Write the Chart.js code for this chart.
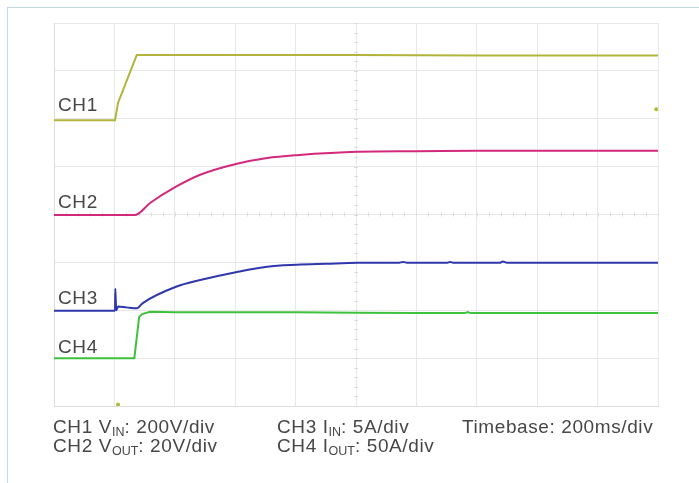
<!DOCTYPE html>
<html>
<head>
<meta charset="utf-8">
<script src="https://cdn.jsdelivr.net/npm/chart.js@4"></script>
<style>
  html, body { margin: 0; padding: 0; background: #fff; }
  #wrap { position: relative; width: 699px; height: 483px; overflow: hidden; }
  #frame { position: absolute; left: 7px; top: 7px; width: 720px; height: 520px;
           border-top: 1.5px solid #c4d8df; border-left: 1.5px solid #c4d8df; }
  canvas { position: absolute; left: 0; top: 0; }
  .lbl { position: absolute; font-family: "Liberation Sans", Arial, sans-serif;
         color: #474747; white-space: nowrap; line-height: 1; letter-spacing: 0.6px; }
  .ch { font-size: 19px; }
  .foot { font-size: 19px; }
  .foot sub { font-size: 12.5px; vertical-align: -3px; line-height: 0; letter-spacing: 0; }
</style>
</head>
<body>
<div id="wrap">
  <div id="frame"></div>
  <canvas id="scope" width="699" height="483"></canvas>
  <div class="lbl ch" style="left:58px; top:95px;">CH1</div>
  <div class="lbl ch" style="left:58px; top:192px;">CH2</div>
  <div class="lbl ch" style="left:58px; top:288px;">CH3</div>
  <div class="lbl ch" style="left:58px; top:337px;">CH4</div>
  <div class="lbl foot" style="left:53px; top:417px;">CH1 V<sub>IN</sub>: 200V/div</div>
  <div class="lbl foot" style="left:53px; top:436px;">CH2 V<sub>OUT</sub>: 20V/div</div>
  <div class="lbl foot" style="left:277px; top:417px;">CH3 I<sub>IN</sub>: 5A/div</div>
  <div class="lbl foot" style="left:277px; top:436px;">CH4 I<sub>OUT</sub>: 50A/div</div>
  <div class="lbl foot" style="left:462px; top:417px;">Timebase: 200ms/div</div>
</div>
<script>
// time in divisions (200ms/div), levels in divisions from bottom of screen
const ch1T = [0, 1.01, 1.06, 1.37, 3, 5, 7, 10];
const ch1V = [5.97, 5.97, 6.33, 7.33, 7.33, 7.33, 7.32, 7.32];

const ch2T = [0, 1.34, 1.59, 2.02, 2.42, 3.03, 3.53, 4.02, 5.03, 6, 7, 8, 9, 10];
const ch2V = [3.99, 3.99, 4.24, 4.58, 4.83, 5.06, 5.18, 5.24, 5.31, 5.32, 5.33, 5.33, 5.33, 5.33];

const ch3T = [0, 1.01, 1.015, 1.03, 1.06, 1.2, 1.37, 1.47, 2.02, 2.42, 3.03, 3.53, 4.02, 4.5, 5.03,
              5.7, 5.78, 5.86, 6.5, 6.56, 6.62, 7.38, 7.43, 7.5, 8.5, 10];
const ch3V = [1.99, 1.99, 2.45, 2.0, 2.08, 2.06, 2.04, 2.15, 2.49, 2.63, 2.8, 2.91, 2.95, 2.97, 2.99,
              2.99, 3.01, 2.99, 2.99, 3.01, 2.99, 2.99, 3.02, 2.99, 2.99, 2.99];

const ch4T = [0, 1.33, 1.41, 1.46, 1.59, 2, 3, 4, 5, 6, 6.8, 6.85, 6.9, 8, 9, 10];
const ch4V = [1.0, 1.0, 1.86, 1.92, 1.97, 1.96, 1.96, 1.96, 1.95, 1.94, 1.94, 1.96, 1.94, 1.94, 1.94, 1.94];

// ground / trigger markers
const markT = [9.97, 1.06];
const markV = [6.2, 0.03];

const pts = (t, v) => t.map((x, i) => ({ x: x, y: v[i] }));

const centerTicks = {
  id: "centerTicks",
  beforeDatasetsDraw(chart) {
    const { ctx, scales } = chart;
    const xs = scales.x, ys = scales.y;
    const cx = xs.getPixelForValue(5), cy = ys.getPixelForValue(4);
    ctx.save();
    ctx.strokeStyle = "#dddddd";
    ctx.lineWidth = 1;
    ctx.beginPath();
    for (let i = 0; i <= 50; i++) {
      const x = Math.round(xs.getPixelForValue(i / 5)) + 0.5;
      ctx.moveTo(x, cy - 2); ctx.lineTo(x, cy + 2);
    }
    for (let i = 0; i <= 40; i++) {
      const y = Math.round(ys.getPixelForValue(i / 5)) + 0.5;
      ctx.moveTo(cx - 2, y); ctx.lineTo(cx + 2, y);
    }
    ctx.stroke();
    ctx.restore();
  }
};

new Chart(document.getElementById("scope"), {
  type: "line",
  data: {
    datasets: [
      { data: pts(ch1T, ch1V), borderColor: "#b2b43c", borderWidth: 2, tension: 0 },
      { data: pts(ch2T, ch2V), borderColor: "#d3297d", borderWidth: 2, cubicInterpolationMode: "monotone" },
      { data: pts(ch3T, ch3V), borderColor: "#2f37ad", borderWidth: 2, cubicInterpolationMode: "monotone" },
      { data: pts(ch4T, ch4V), borderColor: "#3ec23e", borderWidth: 2, tension: 0 },
      { data: pts(markT, markV), showLine: false, pointRadius: 2, pointBackgroundColor: "#a9bf3a", pointBorderWidth: 0 }
    ]
  },
  options: {
    responsive: false,
    animation: false,
    layout: { padding: { left: 54, top: 23, right: 41, bottom: 77 } },
    elements: { point: { radius: 0 } },
    plugins: { legend: { display: false }, tooltip: { enabled: false } },
    scales: {
      x: {
        type: "linear", min: 0, max: 10,
        ticks: { display: false, stepSize: 1 },
        grid: { color: "#e8e8e8", drawTicks: false },
        border: { color: "#dcdcdc" }
      },
      y: {
        min: 0, max: 8,
        ticks: { display: false, stepSize: 1 },
        grid: { color: "#e8e8e8", drawTicks: false },
        border: { color: "#dcdcdc" }
      }
    }
  },
  plugins: [centerTicks]
});
</script>
</body>
</html>
